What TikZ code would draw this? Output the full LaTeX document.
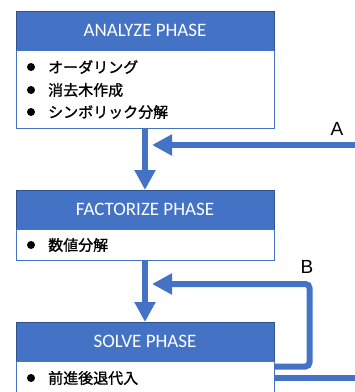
\documentclass[tikz,border=0pt]{standalone}
\usepackage{fontspec}
\setmainfont{Carlito}
\newfontfamily\jpfont[FakeBold=1.2]{Noto Sans CJK JP}
\newfontfamily\lblfont{Liberation Sans}
\usetikzlibrary{arrows.meta}
\definecolor{phaseblue}{HTML}{4472C4}
\definecolor{phaseedge}{HTML}{2F528F}
\tikzset{
  header/.style={draw=phaseedge, line width=0.8pt, fill=phaseblue, text=white,
    minimum width=258pt, minimum height=39pt, inner sep=0pt, outer sep=0pt,
    font=\fontsize{19}{21}\selectfont, anchor=north west},
  body/.style={draw=phaseblue, line width=0.8pt, fill=white,
    minimum width=258pt, inner sep=0pt, outer sep=0pt, anchor=north},
  item/.style={font=\jpfont\fontsize{15}{17}\selectfont, anchor=west, inner sep=0pt},
  bulletdot/.style={fill=black},
  conn/.style={draw=phaseblue, line width=6pt, -{Triangle[length=20pt,width=20pt]}},
  plainconn/.style={draw=phaseblue, line width=6pt},
  lbl/.style={font=\lblfont\fontsize{19}{20}\selectfont, inner sep=0pt}
}
\begin{document}
\begin{tikzpicture}[x=1pt,y=1pt]
\useasboundingbox (0,0) rectangle (355,-392);

% analyze phase
\node[header] (ah) at (16,-11) {ANALYZE PHASE};
\node[body, minimum height=78pt] (ab) at (ah.south) {};
\node[item] (a1) at (48,-67) {オーダリング};
\node[item] (a2) at (48,-90) {消去木作成};
\node[item] (a3) at (48,-112) {シンボリック分解};
\foreach \n in {a1,a2,a3} \fill[bulletdot] ([xshift=-17pt]\n.west) circle (4pt);

% factorize phase
\node[header] (fh) at (16,-190) {FACTORIZE PHASE};
\node[body, minimum height=31pt] (fb) at (fh.south) {};
\node[item] (f1) at (48,-245) {数値分解};
\fill[bulletdot] ([xshift=-17pt]f1.west) circle (4pt);

% solve phase
\node[header] (sh) at (16,-322) {SOLVE PHASE};
\node[body, minimum height=45pt] (sb) at (sh.south) {};
\node[item] (s1) at (48,-378) {前進後退代入};
\fill[bulletdot] ([xshift=-17pt]s1.west) circle (4pt);

% main flow
\draw[conn] (ab.south) -- (fh.north);
\draw[conn] (fb.south) -- (sh.north);

% loop A
\coordinate (aFar) at (355,-145);
\coordinate (aJoin) at (152,-145);
\draw[conn] (aFar) -- (aJoin);
\node[lbl] (la) at (337,-129) {A};

% loop B
\coordinate (bJoin) at (152,-284);
\draw[conn, rounded corners=4pt] ([yshift=-5.5pt]sb.north east) -| (309.5,-284) -- (bJoin);
\node[lbl] (lb) at (307,-267) {B};

% exit towards A
\coordinate (sOut) at (355,-378);
\draw[plainconn] (sb.east |- sOut) -- (sOut);
\end{tikzpicture}
\end{document}
